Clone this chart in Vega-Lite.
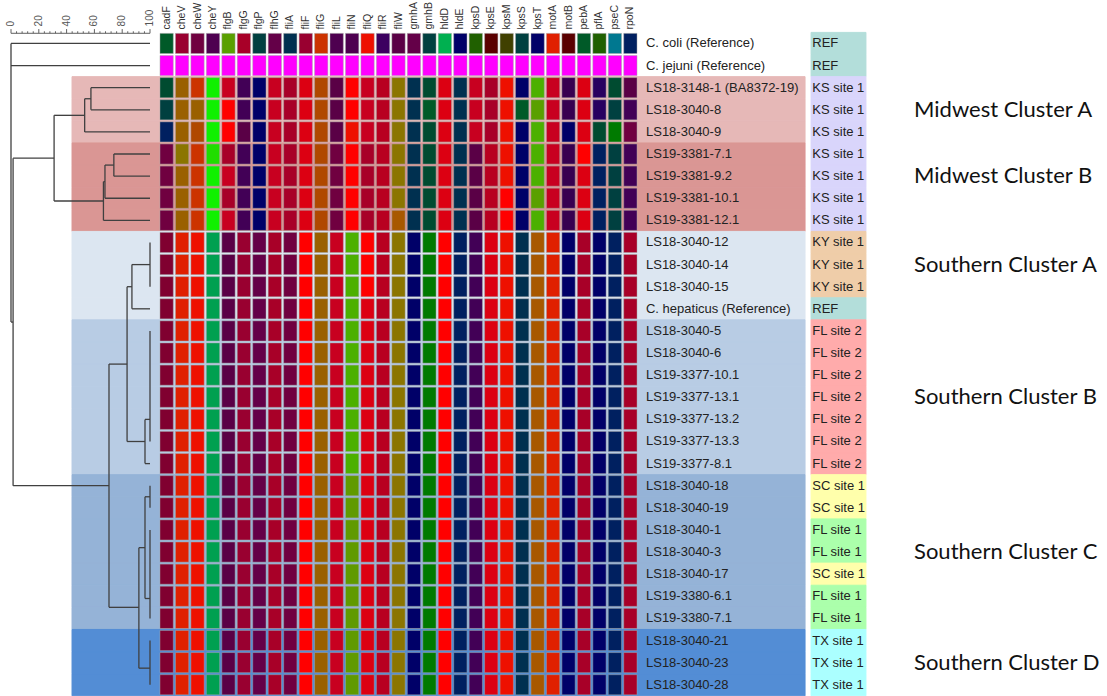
{
"$schema": "https://vega.github.io/schema/vega-lite/v6.json",
"width": 1107, "height": 696, "padding": 0, "autosize": "none", "background": "white",
"config": {"view": {"stroke": null}},
"datasets": {
"samples": [
{"name":"C. coli (Reference)","cluster":"none","site":"REF","cadF":"A","cheV":"N","cheW":"L","cheY":"G","flgB":"d","flgG":"O","flgP":"C","flhG":"o","fliA":"D","fliF":"N","fliG":"U","fliL":"G","fliN":"G","fliQ":"S","fliR":"q","fliW":"K","gmhA":"o","gmhB":"C","hldD":"e","hldE":"F","kpsD":"h","kpsE":"i","kpsM":"j","kpsS":"C","kpsT":"F","motA":"Z","motB":"i","pebA":"A","pflA":"h","pseC":"k","rpoN":"E"},
{"name":"C. jejuni (Reference)","cluster":"none","site":"REF","cadF":"m","cheV":"m","cheW":"m","cheY":"m","flgB":"m","flgG":"m","flgP":"m","flhG":"m","fliA":"m","fliF":"m","fliG":"m","fliL":"m","fliN":"m","fliQ":"m","fliR":"m","fliW":"m","gmhA":"m","gmhB":"m","hldD":"m","hldE":"m","kpsD":"m","kpsE":"m","kpsM":"m","kpsS":"m","kpsT":"m","motA":"m","motB":"m","pebA":"m","pflA":"m","pseC":"m","rpoN":"m"},
{"name":"LS18-3148-1 (BA8372-19)","cluster":"MWA","site":"KS site 1","cadF":"B","cheV":"W","cheW":"U","cheY":"a","flgB":"Q","flgG":"H","flgP":"F","flhG":"Q","fliA":"O","fliF":"R","fliG":"V","fliL":"K","fliN":"T","fliQ":"Q","fliR":"P","fliW":"X","gmhA":"D","gmhB":"B","hldD":"R","hldE":"D","kpsD":"Q","kpsE":"O","kpsM":"S","kpsS":"F","kpsT":"c","motA":"Q","motB":"I","pebA":"R","pflA":"J","pseC":"B","rpoN":"K"},
{"name":"LS18-3040-8","cluster":"MWA","site":"KS site 1","cadF":"C","cheV":"W","cheW":"W","cheY":"a","flgB":"T","flgG":"H","flgP":"F","flhG":"Q","fliA":"O","fliF":"R","fliG":"V","fliL":"K","fliN":"T","fliQ":"Q","fliR":"P","fliW":"X","gmhA":"D","gmhB":"A","hldD":"R","hldE":"D","kpsD":"Q","kpsE":"O","kpsM":"S","kpsS":"A","kpsT":"d","motA":"Q","motB":"I","pebA":"R","pflA":"J","pseC":"C","rpoN":"H"},
{"name":"LS18-3040-9","cluster":"MWA","site":"KS site 1","cadF":"E","cheV":"W","cheW":"V","cheY":"a","flgB":"T","flgG":"K","flgP":"F","flhG":"Q","fliA":"O","fliF":"R","fliG":"V","fliL":"K","fliN":"S","fliQ":"Q","fliR":"P","fliW":"X","gmhA":"D","gmhB":"B","hldD":"R","hldE":"D","kpsD":"Q","kpsE":"O","kpsM":"S","kpsS":"F","kpsT":"c","motA":"Q","motB":"F","pebA":"R","pflA":"B","pseC":"g","rpoN":"L"},
{"name":"LS19-3381-7.1","cluster":"MWB","site":"KS site 1","cadF":"L","cheV":"X","cheW":"U","cheY":"b","flgB":"O","flgG":"H","flgP":"F","flhG":"Q","fliA":"O","fliF":"R","fliG":"V","fliL":"L","fliN":"T","fliQ":"O","fliR":"P","fliW":"X","gmhA":"D","gmhB":"B","hldD":"R","hldE":"D","kpsD":"K","kpsE":"P","kpsM":"S","kpsS":"F","kpsT":"c","motA":"Q","motB":"I","pebA":"T","pflA":"E","pseC":"C","rpoN":"H"},
{"name":"LS19-3381-9.2","cluster":"MWB","site":"KS site 1","cadF":"L","cheV":"W","cheW":"U","cheY":"a","flgB":"Q","flgG":"H","flgP":"F","flhG":"Q","fliA":"O","fliF":"R","fliG":"V","fliL":"L","fliN":"T","fliQ":"O","fliR":"P","fliW":"X","gmhA":"D","gmhB":"B","hldD":"R","hldE":"D","kpsD":"K","kpsE":"P","kpsM":"S","kpsS":"F","kpsT":"c","motA":"Q","motB":"I","pebA":"R","pflA":"E","pseC":"C","rpoN":"H"},
{"name":"LS19-3381-10.1","cluster":"MWB","site":"KS site 1","cadF":"L","cheV":"W","cheW":"U","cheY":"a","flgB":"O","flgG":"H","flgP":"F","flhG":"Q","fliA":"O","fliF":"R","fliG":"V","fliL":"L","fliN":"T","fliQ":"O","fliR":"P","fliW":"X","gmhA":"D","gmhB":"B","hldD":"R","hldE":"D","kpsD":"K","kpsE":"P","kpsM":"T","kpsS":"F","kpsT":"d","motA":"Q","motB":"I","pebA":"R","pflA":"E","pseC":"C","rpoN":"H"},
{"name":"LS19-3381-12.1","cluster":"MWB","site":"KS site 1","cadF":"L","cheV":"W","cheW":"U","cheY":"a","flgB":"Q","flgG":"H","flgP":"F","flhG":"Q","fliA":"O","fliF":"R","fliG":"V","fliL":"L","fliN":"T","fliQ":"O","fliR":"P","fliW":"Y","gmhA":"D","gmhB":"B","hldD":"R","hldE":"D","kpsD":"K","kpsE":"P","kpsM":"T","kpsS":"F","kpsT":"c","motA":"Q","motB":"I","pebA":"R","pflA":"E","pseC":"C","rpoN":"H"},
{"name":"LS18-3040-12","cluster":"SA","site":"KY site 1","cadF":"M","cheV":"Z","cheW":"S","cheY":"f","flgB":"K","flgG":"N","flgP":"o","flhG":"O","fliA":"L","fliF":"T","fliG":"W","fliL":"Q","fliN":"c","fliQ":"T","fliR":"P","fliW":"X","gmhA":"F","gmhB":"g","hldD":"T","hldE":"E","kpsD":"H","kpsE":"R","kpsM":"S","kpsS":"D","kpsT":"Y","motA":"Z","motB":"F","pebA":"O","pflA":"F","pseC":"E","rpoN":"O"},
{"name":"LS18-3040-14","cluster":"SA","site":"KY site 1","cadF":"M","cheV":"Z","cheW":"S","cheY":"f","flgB":"K","flgG":"N","flgP":"o","flhG":"O","fliA":"L","fliF":"T","fliG":"W","fliL":"Q","fliN":"c","fliQ":"T","fliR":"P","fliW":"X","gmhA":"F","gmhB":"g","hldD":"T","hldE":"E","kpsD":"H","kpsE":"R","kpsM":"S","kpsS":"D","kpsT":"Y","motA":"Z","motB":"F","pebA":"O","pflA":"F","pseC":"E","rpoN":"O"},
{"name":"LS18-3040-15","cluster":"SA","site":"KY site 1","cadF":"M","cheV":"Z","cheW":"S","cheY":"f","flgB":"K","flgG":"N","flgP":"o","flhG":"O","fliA":"L","fliF":"T","fliG":"W","fliL":"Q","fliN":"c","fliQ":"T","fliR":"P","fliW":"X","gmhA":"F","gmhB":"g","hldD":"T","hldE":"E","kpsD":"H","kpsE":"R","kpsM":"S","kpsS":"D","kpsT":"Y","motA":"Z","motB":"F","pebA":"O","pflA":"F","pseC":"E","rpoN":"O"},
{"name":"C. hepaticus (Reference)","cluster":"SA","site":"REF","cadF":"M","cheV":"Z","cheW":"S","cheY":"f","flgB":"K","flgG":"N","flgP":"o","flhG":"O","fliA":"L","fliF":"T","fliG":"W","fliL":"Q","fliN":"c","fliQ":"R","fliR":"P","fliW":"X","gmhA":"F","gmhB":"g","hldD":"T","hldE":"E","kpsD":"H","kpsE":"R","kpsM":"S","kpsS":"D","kpsT":"Y","motA":"Z","motB":"F","pebA":"O","pflA":"F","pseC":"E","rpoN":"O"},
{"name":"LS18-3040-5","cluster":"SB","site":"FL site 2","cadF":"M","cheV":"Z","cheW":"S","cheY":"f","flgB":"K","flgG":"N","flgP":"o","flhG":"O","fliA":"L","fliF":"T","fliG":"W","fliL":"Q","fliN":"c","fliQ":"R","fliR":"P","fliW":"X","gmhA":"F","gmhB":"g","hldD":"T","hldE":"E","kpsD":"H","kpsE":"R","kpsM":"S","kpsS":"D","kpsT":"Y","motA":"Z","motB":"F","pebA":"O","pflA":"F","pseC":"E","rpoN":"O"},
{"name":"LS18-3040-6","cluster":"SB","site":"FL site 2","cadF":"M","cheV":"Z","cheW":"S","cheY":"f","flgB":"K","flgG":"N","flgP":"o","flhG":"O","fliA":"L","fliF":"T","fliG":"W","fliL":"Q","fliN":"c","fliQ":"R","fliR":"P","fliW":"X","gmhA":"F","gmhB":"g","hldD":"T","hldE":"E","kpsD":"H","kpsE":"R","kpsM":"S","kpsS":"D","kpsT":"Y","motA":"Z","motB":"F","pebA":"O","pflA":"F","pseC":"E","rpoN":"O"},
{"name":"LS19-3377-10.1","cluster":"SB","site":"FL site 2","cadF":"M","cheV":"Z","cheW":"S","cheY":"f","flgB":"K","flgG":"N","flgP":"o","flhG":"O","fliA":"L","fliF":"T","fliG":"W","fliL":"Q","fliN":"c","fliQ":"R","fliR":"P","fliW":"X","gmhA":"F","gmhB":"g","hldD":"T","hldE":"E","kpsD":"H","kpsE":"R","kpsM":"S","kpsS":"D","kpsT":"Y","motA":"Z","motB":"F","pebA":"O","pflA":"F","pseC":"E","rpoN":"O"},
{"name":"LS19-3377-13.1","cluster":"SB","site":"FL site 2","cadF":"M","cheV":"Z","cheW":"S","cheY":"f","flgB":"K","flgG":"N","flgP":"o","flhG":"O","fliA":"L","fliF":"T","fliG":"W","fliL":"Q","fliN":"c","fliQ":"R","fliR":"P","fliW":"X","gmhA":"F","gmhB":"g","hldD":"T","hldE":"E","kpsD":"H","kpsE":"R","kpsM":"S","kpsS":"D","kpsT":"Y","motA":"Z","motB":"F","pebA":"O","pflA":"F","pseC":"E","rpoN":"O"},
{"name":"LS19-3377-13.2","cluster":"SB","site":"FL site 2","cadF":"M","cheV":"Z","cheW":"S","cheY":"f","flgB":"K","flgG":"N","flgP":"o","flhG":"O","fliA":"L","fliF":"T","fliG":"W","fliL":"Q","fliN":"c","fliQ":"R","fliR":"P","fliW":"X","gmhA":"F","gmhB":"g","hldD":"T","hldE":"E","kpsD":"H","kpsE":"R","kpsM":"S","kpsS":"D","kpsT":"Y","motA":"Z","motB":"F","pebA":"O","pflA":"F","pseC":"E","rpoN":"O"},
{"name":"LS19-3377-13.3","cluster":"SB","site":"FL site 2","cadF":"M","cheV":"Z","cheW":"S","cheY":"f","flgB":"K","flgG":"N","flgP":"o","flhG":"O","fliA":"L","fliF":"T","fliG":"W","fliL":"Q","fliN":"c","fliQ":"R","fliR":"P","fliW":"X","gmhA":"F","gmhB":"g","hldD":"T","hldE":"E","kpsD":"H","kpsE":"R","kpsM":"S","kpsS":"D","kpsT":"Y","motA":"Z","motB":"F","pebA":"O","pflA":"F","pseC":"E","rpoN":"O"},
{"name":"LS19-3377-8.1","cluster":"SB","site":"FL site 2","cadF":"M","cheV":"Z","cheW":"S","cheY":"f","flgB":"K","flgG":"N","flgP":"o","flhG":"O","fliA":"L","fliF":"T","fliG":"W","fliL":"Q","fliN":"c","fliQ":"R","fliR":"P","fliW":"X","gmhA":"F","gmhB":"g","hldD":"T","hldE":"E","kpsD":"H","kpsE":"R","kpsM":"S","kpsS":"D","kpsT":"Y","motA":"Z","motB":"F","pebA":"O","pflA":"F","pseC":"E","rpoN":"O"},
{"name":"LS18-3040-18","cluster":"SC","site":"SC site 1","cadF":"M","cheV":"Z","cheW":"S","cheY":"f","flgB":"K","flgG":"N","flgP":"o","flhG":"O","fliA":"L","fliF":"T","fliG":"W","fliL":"Q","fliN":"n","fliQ":"R","fliR":"P","fliW":"X","gmhA":"F","gmhB":"g","hldD":"T","hldE":"E","kpsD":"H","kpsE":"R","kpsM":"S","kpsS":"D","kpsT":"Y","motA":"Z","motB":"F","pebA":"O","pflA":"F","pseC":"E","rpoN":"O"},
{"name":"LS18-3040-19","cluster":"SC","site":"SC site 1","cadF":"M","cheV":"Z","cheW":"S","cheY":"f","flgB":"K","flgG":"N","flgP":"o","flhG":"O","fliA":"L","fliF":"T","fliG":"W","fliL":"Q","fliN":"n","fliQ":"R","fliR":"P","fliW":"X","gmhA":"F","gmhB":"g","hldD":"T","hldE":"E","kpsD":"H","kpsE":"R","kpsM":"S","kpsS":"D","kpsT":"Y","motA":"Z","motB":"F","pebA":"O","pflA":"F","pseC":"E","rpoN":"O"},
{"name":"LS18-3040-1","cluster":"SC","site":"FL site 1","cadF":"M","cheV":"Z","cheW":"S","cheY":"f","flgB":"K","flgG":"N","flgP":"o","flhG":"O","fliA":"L","fliF":"T","fliG":"W","fliL":"Q","fliN":"n","fliQ":"R","fliR":"P","fliW":"X","gmhA":"F","gmhB":"g","hldD":"T","hldE":"E","kpsD":"H","kpsE":"R","kpsM":"S","kpsS":"D","kpsT":"Y","motA":"Z","motB":"F","pebA":"O","pflA":"F","pseC":"E","rpoN":"O"},
{"name":"LS18-3040-3","cluster":"SC","site":"FL site 1","cadF":"M","cheV":"Z","cheW":"S","cheY":"f","flgB":"K","flgG":"N","flgP":"o","flhG":"O","fliA":"L","fliF":"T","fliG":"W","fliL":"Q","fliN":"n","fliQ":"R","fliR":"P","fliW":"X","gmhA":"F","gmhB":"g","hldD":"T","hldE":"E","kpsD":"H","kpsE":"R","kpsM":"S","kpsS":"D","kpsT":"Y","motA":"Z","motB":"F","pebA":"O","pflA":"F","pseC":"E","rpoN":"O"},
{"name":"LS18-3040-17","cluster":"SC","site":"SC site 1","cadF":"M","cheV":"Z","cheW":"S","cheY":"f","flgB":"K","flgG":"N","flgP":"o","flhG":"O","fliA":"L","fliF":"T","fliG":"W","fliL":"Q","fliN":"n","fliQ":"R","fliR":"P","fliW":"X","gmhA":"F","gmhB":"g","hldD":"T","hldE":"E","kpsD":"H","kpsE":"R","kpsM":"S","kpsS":"D","kpsT":"Y","motA":"Z","motB":"F","pebA":"O","pflA":"F","pseC":"E","rpoN":"O"},
{"name":"LS19-3380-6.1","cluster":"SC","site":"FL site 1","cadF":"M","cheV":"Z","cheW":"S","cheY":"f","flgB":"K","flgG":"N","flgP":"o","flhG":"O","fliA":"L","fliF":"T","fliG":"W","fliL":"Q","fliN":"n","fliQ":"R","fliR":"P","fliW":"X","gmhA":"F","gmhB":"g","hldD":"T","hldE":"E","kpsD":"H","kpsE":"R","kpsM":"S","kpsS":"D","kpsT":"Y","motA":"Z","motB":"F","pebA":"O","pflA":"F","pseC":"E","rpoN":"O"},
{"name":"LS19-3380-7.1","cluster":"SC","site":"FL site 1","cadF":"M","cheV":"Z","cheW":"S","cheY":"f","flgB":"K","flgG":"N","flgP":"o","flhG":"O","fliA":"L","fliF":"T","fliG":"W","fliL":"Q","fliN":"n","fliQ":"R","fliR":"P","fliW":"X","gmhA":"F","gmhB":"g","hldD":"T","hldE":"E","kpsD":"H","kpsE":"R","kpsM":"S","kpsS":"D","kpsT":"Y","motA":"Z","motB":"F","pebA":"O","pflA":"F","pseC":"E","rpoN":"O"},
{"name":"LS18-3040-21","cluster":"SD","site":"TX site 1","cadF":"M","cheV":"Z","cheW":"S","cheY":"f","flgB":"K","flgG":"N","flgP":"o","flhG":"O","fliA":"L","fliF":"T","fliG":"W","fliL":"Q","fliN":"n","fliQ":"R","fliR":"P","fliW":"X","gmhA":"F","gmhB":"g","hldD":"T","hldE":"E","kpsD":"H","kpsE":"R","kpsM":"S","kpsS":"D","kpsT":"Y","motA":"Z","motB":"F","pebA":"O","pflA":"F","pseC":"E","rpoN":"O"},
{"name":"LS18-3040-23","cluster":"SD","site":"TX site 1","cadF":"M","cheV":"Z","cheW":"S","cheY":"f","flgB":"K","flgG":"N","flgP":"o","flhG":"O","fliA":"L","fliF":"T","fliG":"W","fliL":"Q","fliN":"n","fliQ":"R","fliR":"P","fliW":"X","gmhA":"F","gmhB":"g","hldD":"T","hldE":"E","kpsD":"H","kpsE":"R","kpsM":"S","kpsS":"D","kpsT":"Y","motA":"Z","motB":"F","pebA":"O","pflA":"F","pseC":"E","rpoN":"O"},
{"name":"LS18-3040-28","cluster":"SD","site":"TX site 1","cadF":"M","cheV":"Z","cheW":"S","cheY":"f","flgB":"K","flgG":"N","flgP":"o","flhG":"O","fliA":"L","fliF":"T","fliG":"W","fliL":"Q","fliN":"n","fliQ":"R","fliR":"P","fliW":"X","gmhA":"F","gmhB":"g","hldD":"T","hldE":"E","kpsD":"H","kpsE":"R","kpsM":"S","kpsS":"D","kpsT":"Y","motA":"Z","motB":"F","pebA":"O","pflA":"F","pseC":"E","rpoN":"O"}
],
"genes": [{"gene":"cadF"},{"gene":"cheV"},{"gene":"cheW"},{"gene":"cheY"},{"gene":"flgB"},{"gene":"flgG"},{"gene":"flgP"},{"gene":"flhG"},{"gene":"fliA"},{"gene":"fliF"},{"gene":"fliG"},{"gene":"fliL"},{"gene":"fliN"},{"gene":"fliQ"},{"gene":"fliR"},{"gene":"fliW"},{"gene":"gmhA"},{"gene":"gmhB"},{"gene":"hldD"},{"gene":"hldE"},{"gene":"kpsD"},{"gene":"kpsE"},{"gene":"kpsM"},{"gene":"kpsS"},{"gene":"kpsT"},{"gene":"motA"},{"gene":"motB"},{"gene":"pebA"},{"gene":"pflA"},{"gene":"pseC"},{"gene":"rpoN"}],
"dendro": [
{"s1":0,"s2":100,"r1":0.5,"r2":0.5},{"s1":0,"s2":100,"r1":1.5,"r2":1.5},{"s1":0,"s2":0,"r1":0.5,"r2":13.1},{"s1":0,"s2":1.5,"r1":13.1,"r2":13.1},
{"s1":1.5,"s2":1.5,"r1":5.69,"r2":20.5},{"s1":1.5,"s2":31,"r1":5.69,"r2":5.69},{"s1":1.5,"s2":70.5,"r1":20.5,"r2":20.5},
{"s1":31,"s2":31,"r1":3.75,"r2":7.625},{"s1":31,"s2":53,"r1":3.75,"r2":3.75},{"s1":31,"s2":66.5,"r1":7.625,"r2":7.625},
{"s1":53,"s2":53,"r1":3.0,"r2":4.5},{"s1":53,"s2":57.5,"r1":3.0,"r2":3.0},{"s1":53,"s2":100,"r1":4.5,"r2":4.5},
{"s1":57.5,"s2":57.5,"r1":2.5,"r2":3.5},{"s1":57.5,"s2":100,"r1":2.5,"r2":2.5},{"s1":57.5,"s2":100,"r1":3.5,"r2":3.5},
{"s1":66.5,"s2":66.5,"r1":6.75,"r2":8.5},{"s1":66.5,"s2":67.6,"r1":6.75,"r2":6.75},{"s1":66.5,"s2":100,"r1":8.5,"r2":8.5},
{"s1":67.6,"s2":67.6,"r1":6.0,"r2":7.5},{"s1":67.6,"s2":74,"r1":6.0,"r2":6.0},{"s1":67.6,"s2":100,"r1":7.5,"r2":7.5},
{"s1":74,"s2":74,"r1":5.5,"r2":6.5},{"s1":74,"s2":100,"r1":5.5,"r2":5.5},{"s1":74,"s2":100,"r1":6.5,"r2":6.5},
{"s1":70.5,"s2":70.5,"r1":15.0,"r2":26.0},{"s1":70.5,"s2":83.5,"r1":15.0,"r2":15.0},{"s1":70.5,"s2":92,"r1":26.0,"r2":26.0},
{"s1":83.5,"s2":83.5,"r1":11.5,"r2":18.5},{"s1":83.5,"s2":87,"r1":11.5,"r2":11.5},{"s1":83.5,"s2":96.4,"r1":18.5,"r2":18.5},
{"s1":87,"s2":87,"r1":10.5,"r2":12.5},{"s1":87,"s2":100,"r1":10.5,"r2":10.5},{"s1":87,"s2":100,"r1":12.5,"r2":12.5},{"s1":100,"s2":100,"r1":9.5,"r2":11.5},
{"s1":96.4,"s2":96.4,"r1":17.5,"r2":19.5},{"s1":96.4,"s2":100,"r1":17.5,"r2":17.5},{"s1":96.4,"s2":100,"r1":19.5,"r2":19.5},{"s1":100,"s2":100,"r1":13.5,"r2":18.5},
{"s1":92,"s2":92,"r1":23.3,"r2":28.75},{"s1":92,"s2":96.4,"r1":23.3,"r2":23.3},{"s1":92,"s2":100,"r1":28.75,"r2":28.75},{"s1":100,"s2":100,"r1":27.5,"r2":29.5},
{"s1":96.4,"s2":96.4,"r1":21.0,"r2":25.6},{"s1":96.4,"s2":100,"r1":21.0,"r2":21.0},{"s1":96.4,"s2":100,"r1":25.6,"r2":25.6},{"s1":100,"s2":100,"r1":20.5,"r2":21.5},{"s1":100,"s2":100,"r1":22.5,"r2":26.5}
],
"ruler": [{"v":0},{"v":4},{"v":8},{"v":12},{"v":16},{"v":20},{"v":24},{"v":28},{"v":32},{"v":36},{"v":40},{"v":44},{"v":48},{"v":52},{"v":56},{"v":60},{"v":64},{"v":68},{"v":72},{"v":76},{"v":80},{"v":84},{"v":88},{"v":92},{"v":96},{"v":100}],
"clusters": [
{"label":"Midwest Cluster A","anchor":"LS18-3040-8","even":false},
{"label":"Midwest Cluster B","anchor":"LS19-3381-9.2","even":true},
{"label":"Southern Cluster A","anchor":"LS18-3040-14","even":true},
{"label":"Southern Cluster B","anchor":"LS19-3377-13.1","even":false},
{"label":"Southern Cluster C","anchor":"LS18-3040-3","even":false},
{"label":"Southern Cluster D","anchor":"LS18-3040-23","even":false}
]
},
"resolve": {"scale": {"x": "independent", "y": "independent", "color": "independent", "stroke": "independent"}},
"layer": [
{"data": {"name": "samples"}, "mark": {"type": "rect", "strokeWidth": 1},
 "encoding": {
  "y": {"field": "name", "type": "nominal", "sort": null, "scale": {"range": [32.4, 695.8], "paddingInner": 0, "paddingOuter": 0}, "axis": null},
  "x": {"datum": -5.62, "type": "quantitative", "scale": {"domain": [0, 31], "range": [158.9, 638.1], "nice": false, "zero": false}, "axis": null},
  "x2": {"datum": 41.8},
  "color": {"field": "cluster", "type": "nominal", "legend": null, "scale": {"domain": ["none","MWA","MWB","SA","SB","SC","SD"], "range": ["#ffffff","#E6B8B7","#DA9694","#DCE6F1","#B8CCE4","#95B3D7","#538DD5"]}},
  "stroke": {"field": "cluster", "type": "nominal", "legend": null, "scale": {"domain": ["none","MWA","MWB","SA","SB","SC","SD"], "range": ["#ffffff","#E6B8B7","#DA9694","#DCE6F1","#B8CCE4","#95B3D7","#538DD5"]}}
 }},
{"data": {"name": "dendro"}, "mark": {"type": "rule", "color": "#404040", "strokeWidth": 1.3},
 "encoding": {
  "x": {"field": "s1", "type": "quantitative", "scale": {"domain": [0, 100], "range": [11, 150], "nice": false, "zero": false}, "axis": null},
  "x2": {"field": "s2"},
  "y": {"field": "r1", "type": "quantitative", "scale": {"domain": [0, 30], "range": [32.4, 695.8], "nice": false, "zero": false}, "axis": null},
  "y2": {"field": "r2"}
 }},
{"data": {"name": "ruler"}, "transform": [{"filter": "datum.v == 0"}], "mark": {"type": "rule", "color": "#606060", "strokeWidth": 1},
 "encoding": {
  "x": {"datum": 0, "type": "quantitative", "scale": {"domain": [0, 100], "range": [11, 150], "nice": false, "zero": false}, "axis": null},
  "x2": {"datum": 100},
  "y": {"datum": 0.04, "type": "quantitative", "scale": {"domain": [0, 30], "range": [32.4, 695.8], "nice": false, "zero": false}, "axis": null}
 }},
{"data": {"name": "ruler"}, "transform": [{"filter": "datum.v % 20 == 0"}], "mark": {"type": "rule", "color": "#606060", "strokeWidth": 1},
 "encoding": {
  "x": {"field": "v", "type": "quantitative", "scale": {"domain": [0, 100], "range": [11, 150], "nice": false, "zero": false}, "axis": null},
  "y": {"datum": 0.04, "type": "quantitative", "scale": {"domain": [0, 30], "range": [32.4, 695.8], "nice": false, "zero": false}, "axis": null},
  "y2": {"datum": -0.15}
 }},
{"data": {"name": "ruler"}, "transform": [{"filter": "datum.v % 20 != 0"}], "mark": {"type": "rule", "color": "#606060", "strokeWidth": 1},
 "encoding": {
  "x": {"field": "v", "type": "quantitative", "scale": {"domain": [0, 100], "range": [11, 150], "nice": false, "zero": false}, "axis": null},
  "y": {"datum": 0.04, "type": "quantitative", "scale": {"domain": [0, 30], "range": [32.4, 695.8], "nice": false, "zero": false}, "axis": null},
  "y2": {"datum": -0.05}
 }},
{"data": {"name": "ruler"}, "transform": [{"filter": "datum.v % 20 == 0"}], "mark": {"type": "text", "angle": 270, "align": "left", "baseline": "middle", "font": "Liberation Sans", "fontSize": 10, "color": "#555555"},
 "encoding": {
  "x": {"field": "v", "type": "quantitative", "scale": {"domain": [0, 100], "range": [11, 150], "nice": false, "zero": false}, "axis": null},
  "y": {"datum": -0.27, "type": "quantitative", "scale": {"domain": [0, 30], "range": [32.4, 695.8], "nice": false, "zero": false}, "axis": null},
  "text": {"field": "v", "type": "nominal"}
 }},
{"data": {"name": "samples"},
 "transform": [{"fold": ["cadF","cheV","cheW","cheY","flgB","flgG","flgP","flhG","fliA","fliF","fliG","fliL","fliN","fliQ","fliR","fliW","gmhA","gmhB","hldD","hldE","kpsD","kpsE","kpsM","kpsS","kpsT","motA","motB","pebA","pflA","pseC","rpoN"], "as": ["gene", "allele"]}],
 "mark": {"type": "rect", "stroke": "#a8a8a8", "strokeWidth": 0.8, "strokeOpacity": 0.6},
 "encoding": {
  "x": {"field": "gene", "type": "nominal", "sort": null, "scale": {"range": [158.9, 638.1], "paddingInner": 0.14, "paddingOuter": 0.07}, "axis": null},
  "y": {"field": "name", "type": "nominal", "sort": null, "scale": {"range": [32.4, 695.8], "paddingInner": 0.09, "paddingOuter": 0.045}, "axis": null},
  "color": {"field": "allele", "type": "nominal", "legend": null, "scale": {
   "domain": ["A","B","C","D","E","F","G","H","I","J","K","L","M","N","O","P","Q","R","S","T","U","V","W","X","Y","Z","a","b","c","d","e","f","g","h","i","j","k","m","n","o","q"],
   "range": ["#005A28","#004B30","#004040","#003050","#002060","#000068","#4E0050","#420056","#380050","#280060","#5A0046","#700040","#800030","#990030","#A80028","#B80020","#C80020","#DC0012","#EE1000","#FF0000","#CC3300","#B04800","#9A6000","#8B7500","#A85800","#E02000","#10F000","#20DD00","#4CB000","#5AA000","#00B050","#00A050","#007A00","#206000","#5A0000","#404000","#007890","#FF00FF","#609A00","#640048","#3C0060"]}}
 }},
{"data": {"name": "genes"}, "mark": {"type": "text", "angle": 270, "align": "left", "baseline": "middle", "font": "Liberation Sans", "fontSize": 10.5, "color": "#333333"},
 "encoding": {
  "x": {"field": "gene", "type": "nominal", "sort": null, "scale": {"range": [158.9, 638.1], "paddingInner": 0.14, "paddingOuter": 0.07}, "axis": null},
  "y": {"datum": -0.13, "type": "quantitative", "scale": {"domain": [0, 30], "range": [32.4, 695.8], "nice": false, "zero": false}, "axis": null},
  "text": {"field": "gene", "type": "nominal"}
 }},
{"data": {"name": "samples"}, "mark": {"type": "text", "align": "left", "baseline": "middle", "font": "Liberation Sans", "fontSize": 13, "color": "#222222"},
 "encoding": {
  "x": {"datum": 31.51, "type": "quantitative", "scale": {"domain": [0, 31], "range": [158.9, 638.1], "nice": false, "zero": false}, "axis": null},
  "y": {"field": "name", "type": "nominal", "sort": null, "scale": {"range": [32.4, 695.8], "paddingInner": 0, "paddingOuter": 0}, "axis": null},
  "text": {"field": "name", "type": "nominal"}
 }},
{"data": {"name": "samples"}, "mark": {"type": "rect", "strokeWidth": 1},
 "encoding": {
  "x": {"datum": 42.19, "type": "quantitative", "scale": {"domain": [0, 31], "range": [158.9, 638.1], "nice": false, "zero": false}, "axis": null},
  "x2": {"datum": 45.74},
  "y": {"field": "name", "type": "nominal", "sort": null, "scale": {"range": [32.4, 695.8], "paddingInner": 0, "paddingOuter": 0}, "axis": null},
  "color": {"field": "site", "type": "nominal", "legend": null, "scale": {"domain": ["REF","KS site 1","KY site 1","FL site 2","SC site 1","FL site 1","TX site 1"], "range": ["#B3DEDA","#D9D5FB","#EFCDA9","#FFABAB","#FFFFAB","#ABFFAB","#ABFFFF"]}},
  "stroke": {"field": "site", "type": "nominal", "legend": null, "scale": {"domain": ["REF","KS site 1","KY site 1","FL site 2","SC site 1","FL site 1","TX site 1"], "range": ["#B3DEDA","#D9D5FB","#EFCDA9","#FFABAB","#FFFFAB","#ABFFAB","#ABFFFF"]}}
 }},
{"data": {"name": "samples"}, "mark": {"type": "text", "align": "left", "baseline": "middle", "font": "Liberation Sans", "fontSize": 13, "color": "#222222"},
 "encoding": {
  "x": {"datum": 42.27, "type": "quantitative", "scale": {"domain": [0, 31], "range": [158.9, 638.1], "nice": false, "zero": false}, "axis": null},
  "y": {"field": "name", "type": "nominal", "sort": null, "scale": {"range": [32.4, 695.8], "paddingInner": 0, "paddingOuter": 0}, "axis": null},
  "text": {"field": "site", "type": "nominal"}
 }},
{"data": {"name": "clusters"}, "transform": [{"filter": "!datum.even"}], "mark": {"type": "text", "align": "left", "baseline": "middle", "font": "Lato", "fontSize": 22, "color": "#111111"},
 "encoding": {
  "x": {"datum": 48.85, "type": "quantitative", "scale": {"domain": [0, 31], "range": [158.9, 638.1], "nice": false, "zero": false}, "axis": null},
  "y": {"field": "anchor", "type": "nominal", "scale": {"domain": ["C. coli (Reference)","C. jejuni (Reference)","LS18-3148-1 (BA8372-19)","LS18-3040-8","LS18-3040-9","LS19-3381-7.1","LS19-3381-9.2","LS19-3381-10.1","LS19-3381-12.1","LS18-3040-12","LS18-3040-14","LS18-3040-15","C. hepaticus (Reference)","LS18-3040-5","LS18-3040-6","LS19-3377-10.1","LS19-3377-13.1","LS19-3377-13.2","LS19-3377-13.3","LS19-3377-8.1","LS18-3040-18","LS18-3040-19","LS18-3040-1","LS18-3040-3","LS18-3040-17","LS19-3380-6.1","LS19-3380-7.1","LS18-3040-21","LS18-3040-23","LS18-3040-28"], "range": [32.4, 695.8], "paddingInner": 0, "paddingOuter": 0}, "axis": null},
  "text": {"field": "label", "type": "nominal"}
 }},
{"data": {"name": "clusters"}, "transform": [{"filter": "datum.even"}], "mark": {"type": "text", "align": "left", "baseline": "middle", "font": "Lato", "fontSize": 22, "color": "#111111"},
 "encoding": {
  "x": {"datum": 48.85, "type": "quantitative", "scale": {"domain": [0, 31], "range": [158.9, 638.1], "nice": false, "zero": false}, "axis": null},
  "y": {"field": "anchor", "type": "nominal", "bandPosition": 1, "scale": {"domain": ["C. coli (Reference)","C. jejuni (Reference)","LS18-3148-1 (BA8372-19)","LS18-3040-8","LS18-3040-9","LS19-3381-7.1","LS19-3381-9.2","LS19-3381-10.1","LS19-3381-12.1","LS18-3040-12","LS18-3040-14","LS18-3040-15","C. hepaticus (Reference)","LS18-3040-5","LS18-3040-6","LS19-3377-10.1","LS19-3377-13.1","LS19-3377-13.2","LS19-3377-13.3","LS19-3377-8.1","LS18-3040-18","LS18-3040-19","LS18-3040-1","LS18-3040-3","LS18-3040-17","LS19-3380-6.1","LS19-3380-7.1","LS18-3040-21","LS18-3040-23","LS18-3040-28"], "range": [32.4, 695.8], "paddingInner": 0, "paddingOuter": 0}, "axis": null},
  "text": {"field": "label", "type": "nominal"}
 }}
]
}
